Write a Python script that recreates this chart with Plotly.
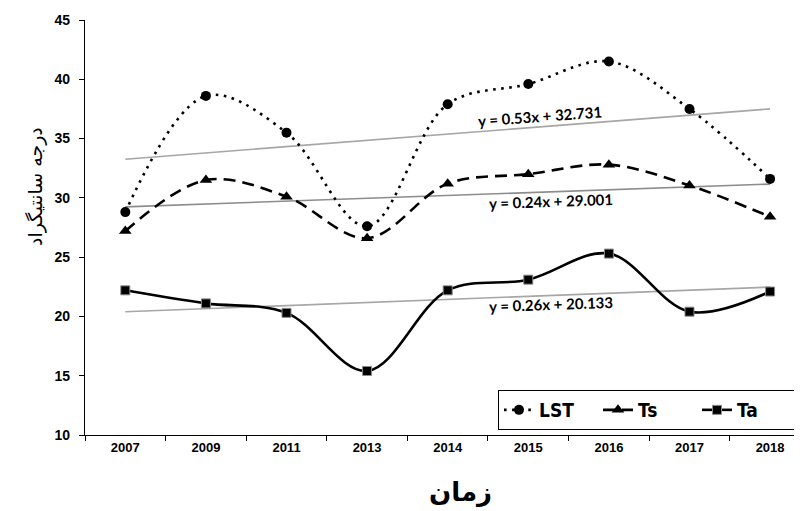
import plotly.graph_objects as go

years = ["2007", "2009", "2011", "2013", "2014", "2015", "2016", "2017", "2018"]
lst = [28.8, 38.6, 35.5, 27.6, 37.9, 39.6, 41.5, 37.5, 31.6]
ts = [27.2, 31.5, 30.1, 26.6, 31.2, 32.0, 32.8, 31.05, 28.4]
ta = [22.2, 21.1, 20.3, 15.4, 22.2, 23.1, 25.3, 20.4, 22.1]

# trendline equations shown on the chart: y = slope * x + intercept, x = 1..n
trend_names = ["LST", "Ts", "Ta"]
trend_slopes = [0.53, 0.24, 0.26]
trend_intercepts = [32.731, 29.001, 20.133]
trend_labels = ["y = 0.53x + 32.731", "y = 0.24x + 29.001", "y = 0.26x + 20.133"]

# page body has an 8px margin, so the figure is offset by 8px
OFF = 8
W, H = 802 - OFF, 511 - OFF
L, T, B = 85, 20, 435  # target pixel positions in the final page
PW, PH = 802 - L, B - T

def px(x):
    return (x - L) / PW

def py(y):
    return (B - y) / PH

fig = go.Figure()

trend_colors = ["#a6a6a6", "#8c8c8c", "#a6a6a6"]
n = len(years)
for i in range(3):
    xs = [1, n]
    ys = [trend_slopes[i] * v + trend_intercepts[i] for v in xs]
    fig.add_trace(go.Scatter(
        x=[years[0], years[-1]], y=ys, mode="lines",
        line=dict(color=trend_colors[i], width=1.6),
        showlegend=False, hoverinfo="skip"))

fig.add_trace(go.Scatter(
    x=years, y=lst, name="LST", mode="lines+markers",
    line=dict(color="black", width=2.6, dash="2.6px,5.5px", shape="spline", smoothing=1.0),
    marker=dict(symbol="circle", size=10, color="black")))
fig.add_trace(go.Scatter(
    x=years, y=ts, name="Ts", mode="lines+markers",
    line=dict(color="black", width=2.6, dash="12px,7px", shape="spline", smoothing=1.0),
    marker=dict(symbol="triangle-up", size=11, color="black")))
fig.add_trace(go.Scatter(
    x=years, y=ta, name="Ta", mode="lines+markers",
    line=dict(color="black", width=2.6, shape="spline", smoothing=1.0),
    marker=dict(symbol="square", size=9, color="black", line=dict(color="#8a8a8a", width=1))))

label_pos = [(540, 116, -4.3), (551, 201, -2), (551, 304, -2)]
annotations = []
for (xp, yp, ang), txt in zip(label_pos, trend_labels):
    annotations.append(dict(
        x=px(xp), y=py(yp), xref="paper", yref="paper", text=txt, showarrow=False,
        textangle=ang, font=dict(family="Lato, Liberation Sans", size=15, color="black", weight="bold"),
        xanchor="center", yanchor="middle"))

annotations.append(dict(
    x=px(35), y=py(187), xref="paper", yref="paper", text="درجه سانتیگراد",
    showarrow=False, textangle=-90, font=dict(family="DejaVu Sans", size=19, color="black"),
    xanchor="center", yanchor="middle"))
annotations.append(dict(
    x=px(460), y=py(492), xref="paper", yref="paper", text="<b>زمان</b>",
    showarrow=False, font=dict(family="DejaVu Sans", size=26, color="black"),
    xanchor="center", yanchor="middle"))

fig.update_layout(
    width=W, height=H,
    margin=dict(l=L - OFF, r=0, t=T - OFF, b=511 - B),
    plot_bgcolor="white", paper_bgcolor="white",
    annotations=annotations,
    legend=dict(
        orientation="h", x=px(797), y=py(430), xanchor="right", yanchor="bottom",
        bgcolor="white", bordercolor="black", borderwidth=1,
        font=dict(family="DejaVu Sans Condensed, Liberation Sans Narrow, Liberation Sans", size=19, color="black", weight="bold"),
        itemwidth=30, entrywidth=54, entrywidthmode="pixels", tracegroupgap=0),
    xaxis=dict(
        type="category", categoryorder="array", categoryarray=years,
        range=[-0.5, 8.396], tickson="boundaries",
        showline=True, linecolor="black", linewidth=1.2,
        ticks="outside", ticklen=5, tickcolor="black", showgrid=False, zeroline=False,
        tickfont=dict(family="Liberation Sans", size=13, color="black", weight="bold")),
    yaxis=dict(
        range=[10, 45], dtick=5, showline=True, linecolor="black", linewidth=1.2,
        ticks="outside", ticklen=5, tickcolor="black", showgrid=False, zeroline=False,
        ticklabelstandoff=6,
        tickfont=dict(family="Liberation Sans", size=14, color="black", weight="bold")),
)

fig.write_html("out.html")
